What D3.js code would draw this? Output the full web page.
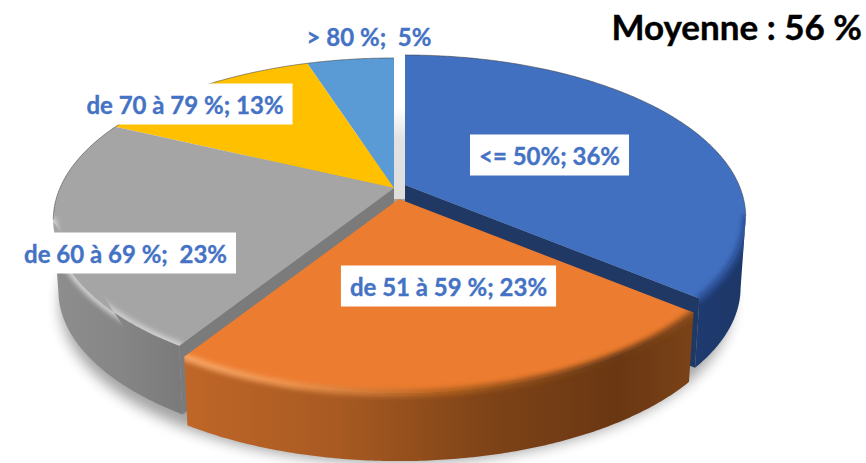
<!DOCTYPE html>
<html>
<head>
<meta charset="utf-8">
<style>
html,body{margin:0;padding:0;background:#fff;overflow:hidden}
text{font-family:Lato,"Open Sans",sans-serif;font-weight:700;white-space:pre}
</style>
<script src="https://cdn.jsdelivr.net/npm/d3@7/dist/d3.min.js"></script>
</head>
<body>
<svg id="c" width="866" height="463"></svg>
<script>
// ---- data ----
const categories = ["<= 50%", "de 51 à 59 %", "de 60 à 69 %", "de 70 à 79 %", "> 80 %"];
const values = [36, 23, 23, 13, 5];
const separators = ["; ", "; ", ";  ", "; ", ";  "];
const title = "Moyenne : 56 %";

// ---- styles ----
const topColors  = ["#4270c0", "#ec7c30", "#a5a5a5", "#ffc000", "#5b9bd5"];
const sideStops  = [
  [["#1f3a70",0],["#1d3767",1]],
  [["#c06628",0],["#a85a22",.3],["#7e4317",.6],["#6a3713",.85],["#7a4217",1]],
  [["#8e8e8e",0],["#868686",.5],["#7a7a7a",1]],
  [["#bf9000",0],["#bf9000",1]],
  [["#3f74a8",0],["#3f74a8",1]]
];
const rimStops = [
  [["#2a4f95",0],["#2a4f95",1]],
  [["#f8a768",0],["#ee9550",.2],["#b56220",.5],["#6a3a14",.85],["#8e4e1c",1]],
  [["#d8d8d8",0],["#cfcfcf",.6],["#d4d4d4",1]],
  [["#ffc000",0],["#ffc000",1]],
  [["#5b9bd5",0],["#5b9bd5",1]]
];
const faceColors = ["#1f3864", null, "#7b7b7b", null, null];

// ---- layout ----
const apexes = [[405,185],[399,199],[394,188],[394,188],[394,188]];
const radiusX = 334, radiusY = 155.7, persp = 0.1975, depth = 71, baseScale = 0.985;
const labelPos = [[549.5,155],[448.5,286],[125.5,253],[185,104],[369,36]];
const boxed = [true,true,true,true,false];
const paintOrder = [4,3,2,0,1];

const svg = d3.select("#c");
const defs = svg.append("defs");

[["b2",2.6],["b1",0.6],["b8",7]].forEach(([id,s])=>{
  defs.append("filter").attr("id",id)
    .attr("x","-20%").attr("y","-20%").attr("width","140%").attr("height","140%")
    .append("feGaussianBlur").attr("stdDeviation",s);
});

const arcs = d3.pie().sort(null).value(d=>d)(values);

// project a pie angle on the tilted disc
function proj(theta, apex, base){
  const u = Math.sin(theta), v = -Math.cos(theta), w = 1/(1 - persp*v);
  const k = base ? baseScale : 1;
  return [apex[0] + radiusX*u*w*k,
          apex[1] + radiusY*v*w*k + (base ? depth : 0)];
}
const samples = (a0,a1)=>{
  const n = Math.max(2, Math.ceil((a1-a0)/0.01));
  return d3.range(n+1).map(i=>a0 + (a1-a0)*i/n);
};
const line = d3.line();

function addGrad(id, stops, x0, x1){
  const g = defs.append("linearGradient").attr("id",id)
    .attr("gradientUnits","userSpaceOnUse")
    .attr("x1",x0).attr("x2",x1).attr("y1",0).attr("y2",0);
  stops.forEach(([c,o])=>g.append("stop").attr("offset",o).attr("stop-color",c));
}

// ground shadow
const allAngles = samples(0, Math.PI*2);
svg.append("path")
  .attr("d", line(allAngles.map(t=>proj(t,[396,195],true))) + "Z")
  .attr("transform","translate(0,6)")
  .attr("fill","#000").attr("opacity",.36).attr("filter","url(#b8)");

// gap between first and last slices
const gapGrad = defs.append("linearGradient").attr("id","gap")
  .attr("x1",0).attr("x2",0).attr("y1",0).attr("y2",1);
gapGrad.append("stop").attr("offset",0).attr("stop-color","#fff");
gapGrad.append("stop").attr("offset",.35).attr("stop-color","#e2e2e2");
gapGrad.append("stop").attr("offset",1).attr("stop-color","#dedede");
svg.append("rect")
  .attr("x",apexes[4][0]).attr("width",apexes[0][0]-apexes[4][0])
  .attr("y",apexes[0][1]-78).attr("height",92)
  .attr("fill","url(#gap)");

const gPie = svg.append("g");
paintOrder.forEach(i=>{
  const a = arcs[i], ap = apexes[i];
  const angles = samples(a.startAngle, a.endAngle);
  const topArc = angles.map(t=>proj(t,ap,false));
  const front = angles.filter(t=>-Math.cos(t) > persp);
  const showSide = front.length > 1;
  const frontTop = front.map(t=>proj(t,ap,false));
  const frontBot = front.map(t=>proj(t,ap,true));
  const g = gPie.append("g");

  if(showSide){
    const xs = frontBot.concat(frontTop).map(p=>p[0]);
    const x0 = d3.min(xs), x1 = d3.max(xs);
    addGrad("side"+i, sideStops[i], x0, x1);
    addGrad("rim"+i, rimStops[i], x0, x1);
    if(faceColors[i]){
      const t = i===0 ? a.endAngle : a.startAngle;
      const pts = [ap, proj(t,ap,false), proj(t,ap,true), [ap[0],ap[1]+depth]];
      g.append("path").attr("d",line(pts)+"Z").attr("fill",faceColors[i]);
    }
    g.append("path")
      .attr("d", line(frontTop.concat(frontBot.slice().reverse()))+"Z")
      .attr("fill","url(#side"+i+")");
  }
  // top face
  g.append("path").attr("d",line([ap].concat(topArc))+"Z").attr("fill",topColors[i]);

  // rear edge hairline
  const rear = angles.filter(t=>-Math.cos(t) < persp);
  if(rear.length>1){
    g.append("path").attr("d",line(rear.map(t=>proj(t,ap,false))))
      .attr("fill","none").attr("stroke","#3c3c3c").attr("stroke-width",.9)
      .attr("opacity",.6).attr("filter","url(#b1)");
  }
  // soft bevel along the rim
  if(showSide){
    const clipId = "clip"+i;
    const before = angles.filter(t=>-Math.cos(t) <= persp).map(t=>proj(t,ap,false));
    const outline = i===2
      ? [ap].concat(frontTop).concat(frontBot.slice().reverse().slice(0,0)).concat(frontBot.slice(-1)).concat(frontBot.slice().reverse()).concat(frontTop.slice(-1)).concat(before)
      : [ap].concat(before).concat(frontTop.slice(0,1)).concat(frontBot.slice(0,1)).concat(frontBot).concat(frontTop.slice(-1));
    defs.append("clipPath").attr("id",clipId).append("path")
      .attr("d", line(outline)+"Z")
      .attr("clip-rule","nonzero");
    const cg = g.append("g").attr("clip-path","url(#"+clipId+")");
    cg.append("path").attr("d",line(frontTop))
      .attr("fill","none").attr("stroke","url(#rim"+i+")")
      .attr("stroke-width",7).attr("stroke-linecap","round")
      .attr("filter","url(#b2)");
  }
});

// labels
const labelLayer = svg.append("g");
categories.forEach((c,i)=>{
  const g = labelLayer.append("g");
  const t = g.append("text")
    .attr("x",labelPos[i][0]).attr("y",labelPos[i][1])
    .attr("text-anchor","middle").attr("dominant-baseline","central")
    .attr("font-size",24).attr("fill","#4472c4")
    .attr("stroke","#4472c4").attr("stroke-width",.35)
    .text(c + separators[i] + values[i] + "%");
  if(boxed[i]){
    const b = t.node().getBBox();
    const hBox = 41;
    g.insert("rect","text")
      .attr("x",b.x-9).attr("width",b.width+18)
      .attr("y",labelPos[i][1]-hBox/2).attr("height",hBox)
      .attr("fill","#fff");
  }
});

svg.append("text")
  .attr("x",862).attr("y",26).attr("text-anchor","end")
  .attr("dominant-baseline","central")
  .attr("font-size",35).attr("fill","#000")
  .attr("stroke","#000").attr("stroke-width",.4)
  .text(title);
</script>
</body>
</html>
